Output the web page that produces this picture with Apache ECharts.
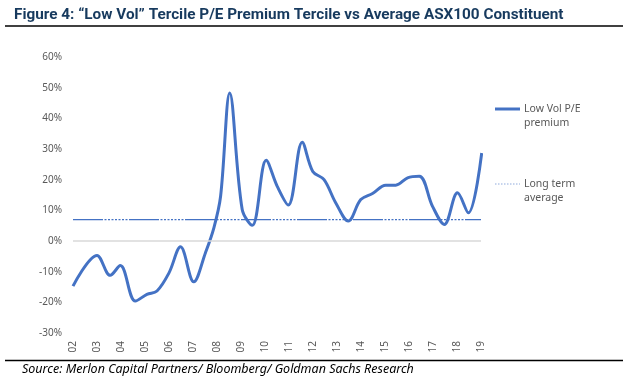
<!DOCTYPE html>
<html><head><meta charset="utf-8">
<script src="https://cdn.jsdelivr.net/npm/echarts@6/dist/echarts.min.js"></script>
<style>html,body{margin:0;padding:0;background:#fff}#c{width:633px;height:381px}</style>
</head><body><div id="c"></div>
<script>
const years = [2002,2003,2003.55,2003.97,2004.6,2005.08,2005.5,2006.0,2006.48,2007.03,2007.52,2007.87,2008.15,2008.53,2009.05,2009.47,2010.05,2010.51,2010.97,2011.55,2011.99,2012.46,2012.95,2013.47,2013.99,2014.48,2015.03,2015.45,2015.94,2016.43,2016.98,2017.47,2018.02,2018.47,2019.03];
const premium = [-14.7,-4.7,-11.2,-8,-19.6,-17.4,-16.3,-10.4,-1.9,-13.3,-3.8,4.3,14.6,48.3,10.3,5.1,26.3,17.8,11.7,32.2,22.7,20,12.4,6.5,13.5,15.5,18.2,18.2,20.6,21.1,11.3,5.4,15.7,9.2,28.7];
const longTermAvg = 7.0;
const yTicks = [-30,-20,-10,0,10,20,30,40,50,60];
const seriesNames = ['Low Vol P/E\npremium','Long term\naverage'];
const titleText = 'Figure 4: \u201cLow Vol\u201d Tercile P/E Premium Tercile vs Average ASX100 Constituent';
const sourceText = 'Source: Merlon Capital Partners/ Bloomberg/ Goldman Sachs Research';

const chart = echarts.init(document.getElementById('c'), null, {renderer:'canvas'});
const blue = '#4472c4';
const txt = '#595959';
chart.setOption({
  animation:false,
  grid:{left:73,right:152,top:57,bottom:48},
  xAxis:{type:'value',min:2002,max:2019,interval:1,
    axisLine:{show:false,onZero:false},axisTick:{show:false},splitLine:{show:false},
    axisLabel:{rotate:90,margin:8,fontFamily:'Noto Sans',fontSize:10,color:txt,
      formatter:v=>String(Math.round(v)%100).padStart(2,'0')}},
  yAxis:{type:'value',min:yTicks[0],max:yTicks[yTicks.length-1],interval:10,
    axisLine:{show:false},axisTick:{show:false},splitLine:{show:false},
    axisLabel:{margin:11,fontFamily:'Noto Sans',fontSize:10,color:txt,formatter:v=>v+'%'}},
  series:[
    {name:seriesNames[0],type:'line',smooth:0.35,symbol:'none',
     data:years.map((y,i)=>[y,premium[i]]),
     lineStyle:{color:blue,width:3},z:3,
     markLine:{silent:true,symbol:'none',label:{show:false},
       lineStyle:{color:'#d9d9d9',type:'solid',width:1.5},data:[{yAxis:0}]}},
    {name:seriesNames[1],type:'line',symbol:'none',
     data:[[2002,longTermAvg],[2019,longTermAvg]],
     lineStyle:{color:blue,width:1.2,type:[30,1.5,2,1.5,2,1.5,2,1.5,2,1.5,2,1.5,2,1.5,2,1.5]},z:2}
  ],
  graphic:[
    {type:'text',x:14,y:15,style:{text:titleText,fontFamily:'Roboto',fontWeight:'bold',fontSize:15.3,fill:'#173a5e',textVerticalAlign:'middle'}},
    {type:'line',shape:{x1:5,y1:26,x2:623,y2:26},style:{stroke:'#000',lineWidth:1.5}},
    {type:'line',shape:{x1:5,y1:360.5,x2:623,y2:360.5},style:{stroke:'#000',lineWidth:1.5}},
    {type:'text',x:22,y:369,style:{text:sourceText,fontFamily:'Noto Sans',fontStyle:'italic',fontSize:12.5,fill:'#000',textVerticalAlign:'middle'}},
    {type:'line',shape:{x1:495,y1:109,x2:520,y2:109},style:{stroke:blue,lineWidth:3}},
    {type:'text',x:524,y:102,style:{text:seriesNames[0],fontFamily:'Noto Sans',fontSize:10.5,lineHeight:14,fill:txt}},
    {type:'line',shape:{x1:495,y1:184,x2:520,y2:184},style:{stroke:'#8faadc',lineWidth:1,lineDash:[1.5,1.5]}},
    {type:'text',x:524,y:177,style:{text:seriesNames[1],fontFamily:'Noto Sans',fontSize:10.5,lineHeight:14,fill:txt}}
  ]
});
</script></body></html>
